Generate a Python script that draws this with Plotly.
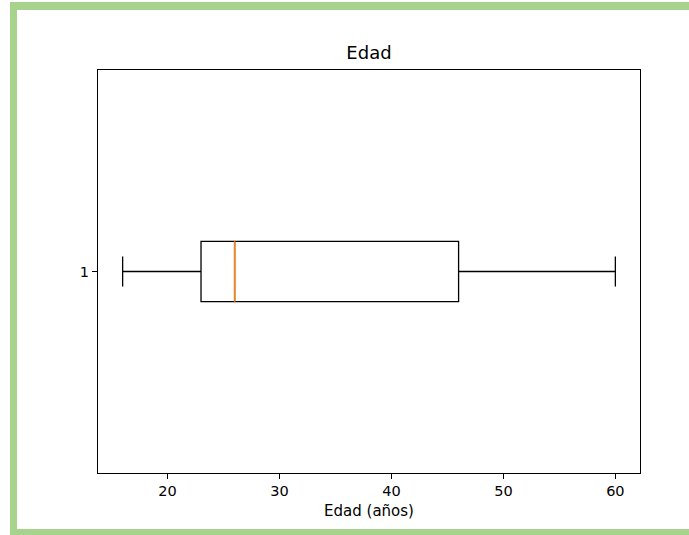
import plotly.graph_objects as go

# Data
category = [1]
q1 = [23]
median = [26]
q3 = [46]
lower_whisker = [16]
upper_whisker = [60]
x_ticks = [20, 30, 40, 50, 60]
y_ticks = [1]
y_tick_labels = ["1"]

W, H = 689, 535
L, R, T, B = 98, 640, 70, 473  # plot area in pixels
BOX_W = 0.15

fig = go.Figure()
fig.add_trace(go.Box(
    y=category, q1=q1, median=median, q3=q3,
    lowerfence=lower_whisker, upperfence=upper_whisker,
    orientation="h", width=BOX_W, whiskerwidth=0.5,
    boxpoints=False, fillcolor="rgba(0,0,0,0)",
    line=dict(color="black", width=1.3), hoverinfo="skip",
    showlegend=False,
))
for c, m in zip(category, median):
    fig.add_trace(go.Scatter(
        x=[m, m], y=[c - BOX_W / 2, c + BOX_W / 2], mode="lines",
        line=dict(color="#ff7f0e", width=1.6), showlegend=False, hoverinfo="skip",
    ))

def px_x(p):
    return (p - L) / (R - L)

def px_y(p):
    return (B - p) / (B - T)

green = "#a8d38d"
shapes = [
    dict(type="rect", xref="paper", yref="paper", x0=px_x(10), x1=px_x(17), y0=px_y(535), y1=px_y(2),
         fillcolor=green, line=dict(width=0), layer="below"),
    dict(type="rect", xref="paper", yref="paper", x0=px_x(10), x1=px_x(689), y0=px_y(10), y1=px_y(2),
         fillcolor=green, line=dict(width=0), layer="below"),
    dict(type="rect", xref="paper", yref="paper", x0=px_x(10), x1=px_x(689), y0=px_y(535), y1=px_y(529),
         fillcolor=green, line=dict(width=0), layer="below"),
]

font = "DejaVu Sans, sans-serif"
fig.update_layout(
    width=W, height=H,
    margin=dict(l=L, r=W - R, t=T, b=H - B, pad=0),
    paper_bgcolor="white", plot_bgcolor="white",
    font=dict(family=font, color="black", size=14.5),
    title=dict(text="Edad", x=(L + R) / 2 / W, xanchor="center", y=1 - 52.5 / H, yanchor="middle",
               font=dict(size=18, family=font, color="black")),
    shapes=shapes,
    xaxis=dict(range=[13.8, 62.2], tickvals=x_ticks, showgrid=False, zeroline=False,
               showline=True, linecolor="black", linewidth=1, mirror=True,
               ticks="outside", ticklen=5, tickcolor="black", tickwidth=1,
               tickfont=dict(size=14.5),
               title=dict(text="Edad (años)", font=dict(size=15), standoff=7)),
    yaxis=dict(range=[0.5, 1.5], tickvals=y_ticks, ticktext=y_tick_labels, showgrid=False,
               zeroline=False, showline=True, linecolor="black", linewidth=1, mirror=True,
               ticks="outside", ticklen=5, tickcolor="black", tickwidth=1,
               tickfont=dict(size=14.5)),
)

fig.write_html("out.html")
